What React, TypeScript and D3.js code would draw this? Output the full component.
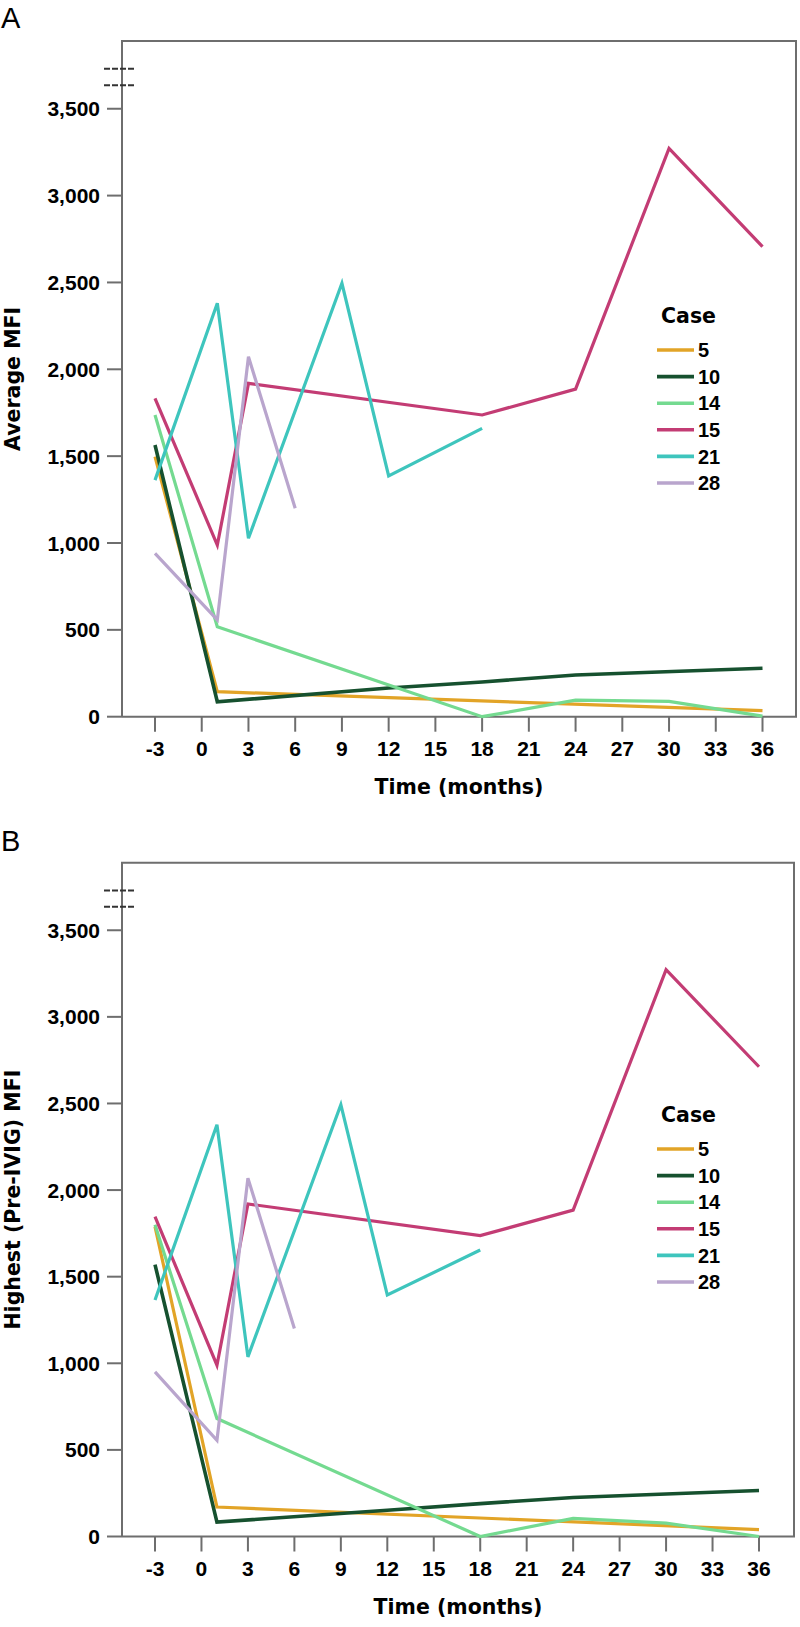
import React from "react";
import * as d3 from "d3";

// ---------- data ----------
const CASES = ["5", "10", "14", "15", "21", "28"];
const CASE_COLORS = ["#e2a427", "#16512f", "#74da90", "#c33c74", "#3ec5bd", "#b9a5cd"];
const CASE_WIDTHS = [3.2, 3.6, 3.2, 3.2, 3.2, 3.2];
const X_TICKS = [-3, 0, 3, 6, 9, 12, 15, 18, 21, 24, 27, 30, 33, 36];
const Y_TICKS = [0, 500, 1000, 1500, 2000, 2500, 3000, 3500];
const BREAK_MARKS = [3730, 3635];

// measurement times (months) per case
const T5 = [-3, 1, 36];
const T10 = [-3, 1, 12, 18, 24, 36];
const T14 = [-3, 1, 18, 24, 30, 36];
const T15 = [-3, 1, 3, 18, 24, 30, 36];
const T21 = [-3, 1, 3, 9, 12, 18];
const T28 = [-3, 1, 3, 6];

// Panel A: Average MFI
const AVG_5 = [1497, 144, 35];
const AVG_10 = [1564, 86, 165, 200, 240, 279];
const AVG_14 = [1737, 518, 0, 95, 88, 3];
const AVG_15 = [1833, 988, 1919, 1737, 1886, 3272, 2706];
const AVG_21 = [1362, 2380, 1027, 2495, 1386, 1660];
const AVG_28 = [940, 557, 2072, 1200];

// Panel B: Highest (Pre-IVIG) MFI
const HIGH_5 = [1789, 170, 40];
const HIGH_10 = [1570, 83, 152, 190, 225, 266];
const HIGH_14 = [1800, 681, 0, 105, 77, 0];
const HIGH_15 = [1847, 989, 1920, 1737, 1884, 3272, 2712];
const HIGH_21 = [1365, 2377, 1037, 2493, 1394, 1654];
const HIGH_28 = [950, 555, 2069, 1201];

const TIMES = [T5, T10, T14, T15, T21, T28];

const Y_MAX = 3890;

const TICK_FONT = "'Liberation Sans', Arial, sans-serif";
const TITLE_FONT = "'DejaVu Sans', Verdana, sans-serif";

type PanelCfg = {
  letter: string;
  letterY: number;
  title: string;
  top: number;
  bottom: number;
  left: number;
  right: number;
  x0: number;
  x1: number;
  legendY: number;
  values: number[][];
};

const PANELS: PanelCfg[] = [
  {
    letter: "A",
    letterY: 28,
    title: "Average MFI",
    top: 41,
    bottom: 716.7,
    left: 122,
    right: 796,
    x0: 155,
    x1: 762.5,
    legendY: 315,
    values: [AVG_5, AVG_10, AVG_14, AVG_15, AVG_21, AVG_28],
  },
  {
    letter: "B",
    letterY: 851,
    title: "Highest (Pre-IVIG) MFI",
    top: 862.7,
    bottom: 1536.5,
    left: 122,
    right: 794,
    x0: 155,
    x1: 759,
    legendY: 1114,
    values: [HIGH_5, HIGH_10, HIGH_14, HIGH_15, HIGH_21, HIGH_28],
  },
];

const fmt = d3.format(",");
const AXIS_COLOR = "#6e6e6e";

function Panel({ cfg }: { cfg: PanelCfg }) {
  const x = d3.scaleLinear().domain([-3, 36]).range([cfg.x0, cfg.x1]);
  const y = d3.scaleLinear().domain([0, Y_MAX]).range([cfg.bottom, cfg.top]);
  const line = d3
    .line<[number, number]>()
    .x((d) => x(d[0]))
    .y((d) => y(d[1]));

  const midY = (cfg.top + cfg.bottom) / 2;
  const midX = (cfg.left + cfg.right) / 2;

  return (
    <g>
      <text x={1} y={cfg.letterY} fontFamily={TICK_FONT} fontSize={29} fill="#000">
        {cfg.letter}
      </text>
      {/* frame */}
      <path
        d={`M${cfg.left},${cfg.bottom}V${cfg.top}H${cfg.right}V${cfg.bottom}H${cfg.left}`}
        fill="none"
        stroke={AXIS_COLOR}
        strokeWidth={2}
      />
      {/* y ticks */}
      {Y_TICKS.map((t) => (
        <g key={"y" + t}>
          <line x1={cfg.left - 15} x2={cfg.left} y1={y(t)} y2={y(t)} stroke={AXIS_COLOR} strokeWidth={2} />
          <text
            x={100}
            y={y(t)}
            dy="0.36em"
            textAnchor="end"
            fontFamily={TICK_FONT}
            fontWeight="bold"
            fontSize={21}
            fill="#000"
          >
            {fmt(t)}
          </text>
        </g>
      ))}
      {/* axis break marks */}
      {BREAK_MARKS.map((b) => (
        <line
          key={"b" + b}
          x1={104}
          x2={135}
          y1={y(b)}
          y2={y(b)}
          stroke="#333"
          strokeWidth={2}
          strokeDasharray="6,2"
        />
      ))}
      {/* x ticks */}
      {X_TICKS.map((t) => (
        <g key={"x" + t}>
          <line x1={x(t)} x2={x(t)} y1={cfg.bottom} y2={cfg.bottom + 15} stroke={AXIS_COLOR} strokeWidth={2} />
          <text
            x={x(t)}
            y={cfg.bottom + 39}
            textAnchor="middle"
            fontFamily={TICK_FONT}
            fontWeight="bold"
            fontSize={21}
            fill="#000"
          >
            {t}
          </text>
        </g>
      ))}
      {/* axis titles */}
      <text
        x={midX}
        y={cfg.bottom + 77}
        textAnchor="middle"
        fontFamily={TITLE_FONT}
        fontWeight="bold"
        fontSize={20.5}
        fill="#000"
      >
        Time (months)
      </text>
      <text
        transform={`translate(20,${midY}) rotate(-90)`}
        textAnchor="middle"
        fontFamily={TITLE_FONT}
        fontWeight="bold"
        fontSize={20.5}
        fill="#000"
      >
        {cfg.title}
      </text>
      {/* series */}
      {CASES.map((c, i) => {
        const pts = TIMES[i].map((t, j) => [t, cfg.values[i][j]] as [number, number]);
        return (
          <path
            key={"s" + c}
            d={line(pts) || ""}
            fill="none"
            stroke={CASE_COLORS[i]}
            strokeWidth={CASE_WIDTHS[i]}
            strokeLinejoin="miter"
          />
        );
      })}
      {/* legend */}
      <text
        x={661}
        y={cfg.legendY + 7.5}
        fontFamily={TITLE_FONT}
        fontWeight="bold"
        fontSize={20.5}
        fill="#000"
      >
        Case
      </text>
      {CASES.map((c, i) => {
        const ly = cfg.legendY + 35 + i * 26.6;
        return (
          <g key={"l" + c}>
            <line x1={657} x2={694} y1={ly} y2={ly} stroke={CASE_COLORS[i]} strokeWidth={3.6} />
            <text
              x={698}
              y={ly}
              dy="0.36em"
              fontFamily={TICK_FONT}
              fontWeight="bold"
              fontSize={20}
              fill="#000"
            >
              {c}
            </text>
          </g>
        );
      })}
    </g>
  );
}

export default function App() {
  return (
    <svg
      width={800}
      height={1627}
      viewBox="0 0 800 1627"
      style={{ position: "absolute", left: 0, top: 0, background: "#fff" }}
    >
      <rect x={0} y={0} width={800} height={1627} fill="#fff" />
      {PANELS.map((p) => (
        <Panel key={p.letter} cfg={p} />
      ))}
    </svg>
  );
}
